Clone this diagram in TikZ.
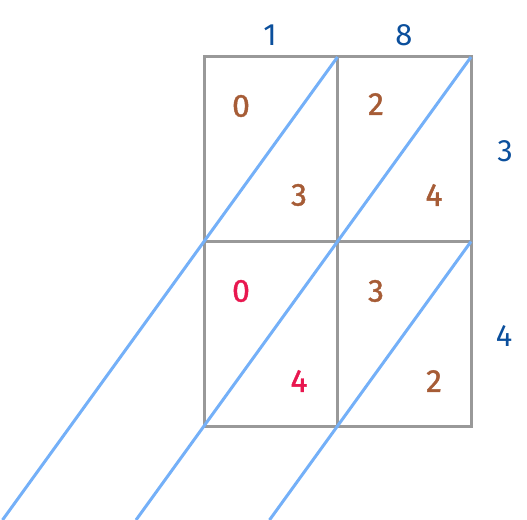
\documentclass[tikz,border=0pt]{standalone}
\usepackage{fontspec}
\setmainfont{Fira Sans}
\newfontfamily\digitfont[FakeBold=1.2]{Fira Sans}
\definecolor{gridgray}{HTML}{999999}
\definecolor{lineblue}{HTML}{74B0F8}
\definecolor{labelblue}{HTML}{0B4F9C}
\definecolor{digitbrown}{HTML}{A65C36}
\definecolor{digitred}{HTML}{E8174F}
\begin{document}
\begin{tikzpicture}[x=1bp,y=-1bp,
  cell/.style={draw=gridgray,line width=3bp},
  diag/.style={draw=lineblue,line width=3bp},
  lbl/.style={text=labelblue,font=\fontsize{31}{31}\selectfont,inner sep=0pt},
  dgb/.style={text=digitbrown,font=\digitfont\fontsize{32}{32}\selectfont,inner sep=0pt},
  dgr/.style={text=digitred,font=\digitfont\fontsize{32}{32}\selectfont,inner sep=0pt}]
\useasboundingbox (0,0) rectangle (527,520);
% grid corners
\coordinate (a00) at (204,57);
\coordinate (a10) at (337.5,57);
\coordinate (a20) at (471,57);
\coordinate (a01) at (204,241.5);
\coordinate (a11) at (337.5,241.5);
\coordinate (a21) at (471,241.5);
\coordinate (a02) at (204,426);
\coordinate (a12) at (337.5,426);
\coordinate (a22) at (471,426);
% diagonal ends at bottom edge
\coordinate (e1) at (2.5,520);
\coordinate (e2) at (136,520);
\coordinate (e3) at (269.5,520);
% cells
\draw[cell] (a00) rectangle (a11);
\draw[cell] (a10) rectangle (a21);
\draw[cell] (a01) rectangle (a12);
\draw[cell] (a11) rectangle (a22);
% diagonals
\draw[diag] (a10) -- (e1);
\draw[diag] (a20) -- (e2);
\draw[diag] (a21) -- (e3);
% labels
\node[lbl] (t1) at (270,35) {1};
\node[lbl] (t8) at (404,35) {8};
\node[lbl] (r3) at (505,151) {3};
\node[lbl] (r4) at (504,336) {4};
% digits
\node[dgb] (d1) at (241,106) {0};
\node[dgb] (d2) at (299,195) {3};
\node[dgb] (d3) at (376,104) {2};
\node[dgb] (d4) at (434,195) {4};
\node[dgr] (d5) at (241,291) {0};
\node[dgr] (d6) at (299,381) {4};
\node[dgb] (d7) at (376,291) {3};
\node[dgb] (d8) at (434,381) {2};
\end{tikzpicture}
\end{document}
